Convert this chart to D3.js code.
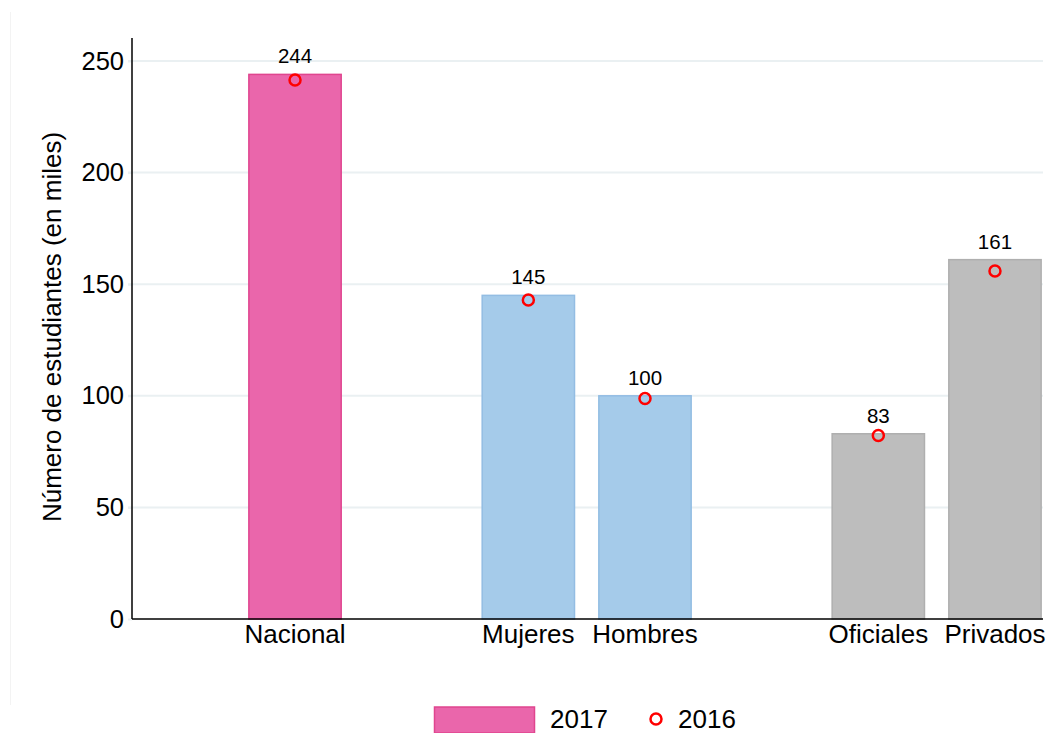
<!DOCTYPE html>
<html>
<head>
<meta charset="utf-8">
<script src="https://cdn.jsdelivr.net/npm/d3@7"></script>
<style>
  body { margin: 0; background: #fff; font-family: "Liberation Sans", Arial, sans-serif; }
</style>
</head>
<body>
<script>
// data
var categories = ["Nacional", "Mujeres", "Hombres", "Oficiales", "Privados"];
var slots = ["Nacional", "gap1", "Mujeres", "Hombres", "gap2", "Oficiales", "Privados"];
var values2017 = [244, 145, 100, 83, 161];
var values2016 = [241.5, 142.9, 98.8, 82.2, 155.9];
var groupOf = ["nac", "sexo", "sexo", "tipo", "tipo"];
var yTicks = [0, 50, 100, 150, 200, 250];

var fills = { nac: "#ea66ab", sexo: "#a5cbea", tipo: "#bdbdbd" };
var strokes = { nac: "#e0458f", sexo: "#93bde3", tipo: "#afafaf" };

var W = 1049, H = 733;
var mLeft = 132, mBottom = 619, mTop = 38, mRight = 1043;

var svg = d3.select("body").append("svg").attr("width", W).attr("height", H)
  .attr("font-family", "Liberation Sans, Arial, sans-serif");

// faint frame line on the left
svg.append("line").attr("x1", 10.5).attr("x2", 10.5).attr("y1", 12).attr("y2", 705)
  .attr("stroke", "#f3f3f3").attr("stroke-width", 1);

var y = d3.scaleLinear().domain([0, 250]).range([mBottom, 61]);
var x = d3.scaleBand().domain(slots).range([236.7, 1053.3]).paddingInner(0.2).paddingOuter(0.1);

// gridlines
svg.append("g").selectAll("line").data(yTicks.filter(function(d){ return d > 0; }))
  .enter().append("line")
  .attr("x1", mLeft - 4).attr("x2", mRight)
  .attr("y1", function(d){ return y(d); }).attr("y2", function(d){ return y(d); })
  .attr("stroke", "#eaf0f2").attr("stroke-width", 2);

// y axis
var yAxis = svg.append("g").attr("transform", "translate(" + mLeft + ",0)")
  .call(d3.axisLeft(y).tickValues(yTicks).tickSize(4).tickPadding(4));
yAxis.select(".domain").remove();
yAxis.selectAll(".tick line").attr("stroke", "#eaf0f2").attr("stroke-width", 2);
yAxis.selectAll(".tick text").attr("font-size", 25.5).attr("fill", "#000")
  .attr("font-family", "Liberation Sans, Arial, sans-serif");
svg.append("line").attr("x1", mLeft).attr("x2", mLeft).attr("y1", mTop).attr("y2", mBottom)
  .attr("stroke", "#000").attr("stroke-width", 1.5);

// bars
var bw = x.bandwidth();
svg.append("g").selectAll("rect").data(categories).enter().append("rect")
  .attr("x", function(d){ return x(d) + 0.5; })
  .attr("y", function(d, i){ return y(values2017[i]); })
  .attr("width", bw - 1)
  .attr("height", function(d, i){ return y(0) - y(values2017[i]); })
  .attr("fill", function(d, i){ return fills[groupOf[i]]; })
  .attr("stroke", function(d, i){ return strokes[groupOf[i]]; })
  .attr("stroke-width", 1.5);

// x axis line
svg.append("line").attr("x1", mLeft).attr("x2", mRight).attr("y1", mBottom).attr("y2", mBottom)
  .attr("stroke", "#000").attr("stroke-width", 1.5);

// category labels
svg.append("g").selectAll("text").data(categories).enter().append("text")
  .attr("x", function(d){ return x(d) + bw / 2; })
  .attr("y", 643)
  .attr("text-anchor", "middle").attr("font-size", 26).attr("fill", "#000")
  .text(function(d){ return d; });

// value labels
svg.append("g").selectAll("text").data(categories).enter().append("text")
  .attr("x", function(d){ return x(d) + bw / 2; })
  .attr("y", function(d, i){ return y(values2017[i]) - 11; })
  .attr("text-anchor", "middle").attr("font-size", 20.5).attr("fill", "#000")
  .text(function(d, i){ return values2017[i]; });

// 2016 markers
svg.append("g").selectAll("circle").data(categories).enter().append("circle")
  .attr("cx", function(d){ return x(d) + bw / 2; })
  .attr("cy", function(d, i){ return y(values2016[i]); })
  .attr("r", 5.5)
  .attr("fill", "none").attr("stroke", "#ff0000").attr("stroke-width", 2.5);

// y title
svg.append("text")
  .attr("transform", "translate(61,327) rotate(-90)")
  .attr("text-anchor", "middle").attr("font-size", 26).attr("fill", "#000")
  .text("Número de estudiantes (en miles)");

// legend
var lg = svg.append("g");
lg.append("rect").attr("x", 434.5).attr("y", 707).attr("width", 100).attr("height", 26)
  .attr("fill", fills.nac).attr("stroke", strokes.nac).attr("stroke-width", 1.5);
lg.append("text").attr("x", 550).attr("y", 728).attr("font-size", 26).attr("fill", "#000").text("2017");
lg.append("circle").attr("cx", 656).attr("cy", 719).attr("r", 5.5)
  .attr("fill", "none").attr("stroke", "#ff0000").attr("stroke-width", 2.5);
lg.append("text").attr("x", 678).attr("y", 728).attr("font-size", 26).attr("fill", "#000").text("2016");
</script>
</body>
</html>
